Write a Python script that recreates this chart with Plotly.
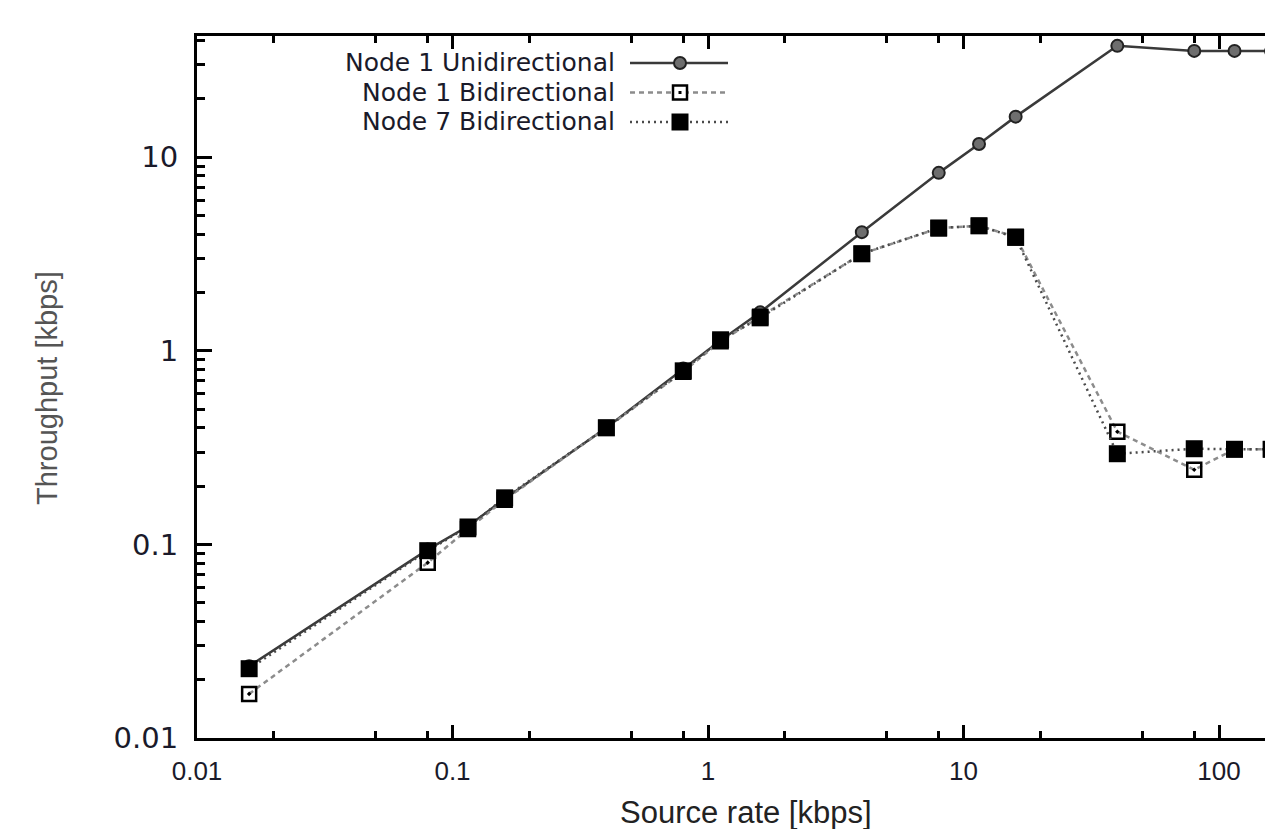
import plotly.graph_objects as go

# ---- data ----
source_rate = [0.016, 0.08, 0.115, 0.16, 0.4, 0.8, 1.12, 1.6, 4, 8, 11.5, 16, 40, 80, 115, 160]
node1_uni = [0.0235, 0.094, 0.124, 0.172, 0.40, 0.81, 1.13, 1.58, 4.1, 8.3, 11.7, 16.2, 37.6, 35.4, 35.4, 35.3]
node1_bi = [0.0169, 0.0805, 0.120, 0.170, 0.40, 0.78, 1.12, 1.50, 3.17, 4.30, 4.42, 3.88, 0.382, 0.243, 0.31, 0.31]
node7_bi = [0.0228, 0.0928, 0.123, 0.174, 0.40, 0.788, 1.14, 1.48, 3.17, 4.31, 4.42, 3.85, 0.294, 0.312, 0.31, 0.31]
series_names = ["Node 1 Unidirectional", "Node 1 Bidirectional", "Node 7 Bidirectional"]
x_major = [0.01, 0.1, 1, 10, 100]
x_major_text = ["0.01", "0.1", "1", "10", "100"]
y_major = [0.01, 0.1, 1, 10]
y_major_text = ["0.01", "0.1", "1", "10"]
x_minor_mult = [2, 5, 8]
y_minor_mult = [2, 3, 4, 5, 6, 7, 8, 9]

# ---- layout constants (page pixel coordinates) ----
WIN_W, WIN_H = 1273, 837
OFF = 8                       # default page body margin
W, H = WIN_W - OFF, WIN_H - 2 * OFF
L, T, B = 197, 36, 738        # plot area edges on the page
R = OFF + W                   # plot area right edge on the page
FONT = "Liberation Sans, Arial, sans-serif"
WIDE = "DejaVu Sans, Verdana, sans-serif"

def px(x):
    return (x - L) / (R - L)

def py(y):
    return (B - y) / (B - T)

x_minor = [m * d for d in [0.01, 0.1, 1, 10, 100] for m in x_minor_mult]
y_minor = [m * d for d in [0.01, 0.1, 1, 10] for m in y_minor_mult]

uni_style = dict(color="#3a3a3a", width=2.5, dash="solid")
bi1_style = dict(color="#8c8c8c", width=2.5, dash="5px,4px")
bi7_style = dict(color="#4a4a4a", width=2.5, dash="2px,4px")

fig = go.Figure()
fig.add_trace(go.Scatter(
    x=source_rate, y=node1_uni, mode="lines+markers", name=series_names[0],
    line=uni_style,
    marker=dict(symbol="circle", size=12, color="#6e6e6e", line=dict(color="#222", width=2)),
))
fig.add_trace(go.Scatter(
    x=source_rate, y=node1_bi, mode="lines+markers", name=series_names[1],
    line=bi1_style,
    marker=dict(symbol="square-open-dot", size=14, color="black", line=dict(width=2.5)),
))
fig.add_trace(go.Scatter(
    x=source_rate, y=node7_bi, mode="lines+markers", name=series_names[2],
    line=bi7_style,
    marker=dict(symbol="square", size=17, color="black", line=dict(width=0)),
))

# ---- custom legend (text right-aligned, sample on the right) ----
shapes = []
annotations = []
rows = [63, 92.5, 122]
line_x0, line_x1, mark_x = 630, 728, 680
for name, ry, st in zip(series_names, rows, [uni_style, bi1_style, bi7_style]):
    annotations.append(dict(
        x=px(617), y=py(ry), xref="paper", yref="paper", text=name, showarrow=False,
        xanchor="right", yanchor="middle", font=dict(family=WIDE, size=25, color="#1a1a2a"),
    ))
    shapes.append(dict(type="line", xref="paper", yref="paper",
                       x0=px(line_x0), x1=px(line_x1), y0=py(ry), y1=py(ry), line=st))
shapes.append(dict(type="circle", xref="paper", yref="paper",
                   x0=px(mark_x - 6), x1=px(mark_x + 6), y0=py(rows[0] + 6), y1=py(rows[0] - 6),
                   fillcolor="#6e6e6e", line=dict(color="#222", width=2)))
shapes.append(dict(type="rect", xref="paper", yref="paper",
                   x0=px(mark_x - 7), x1=px(mark_x + 7), y0=py(rows[1] + 7), y1=py(rows[1] - 7),
                   fillcolor="white", line=dict(color="black", width=2.5)))
shapes.append(dict(type="rect", xref="paper", yref="paper",
                   x0=px(mark_x - 1.5), x1=px(mark_x + 1.5), y0=py(rows[1] + 1.5), y1=py(rows[1] - 1.5),
                   fillcolor="black", line=dict(color="black", width=0)))
shapes.append(dict(type="rect", xref="paper", yref="paper",
                   x0=px(mark_x - 8.5), x1=px(mark_x + 8.5), y0=py(rows[2] + 8.5), y1=py(rows[2] - 8.5),
                   fillcolor="black", line=dict(color="black", width=0)))

# axis titles
annotations.append(dict(
    x=px(746), y=py(812), xref="paper", yref="paper", text="Source rate [kbps]", showarrow=False,
    xanchor="center", yanchor="middle", font=dict(family=FONT, size=31, color="#222"),
))
annotations.append(dict(
    x=px(47), y=py(388), xref="paper", yref="paper", text="Throughput [kbps]", showarrow=False,
    xanchor="center", yanchor="middle", textangle=-90, font=dict(family=FONT, size=29, color="#555"),
))

fig.update_layout(
    width=W, height=H,
    margin=dict(l=L - OFF, r=0, t=T - OFF, b=H - (B - OFF), pad=0),
    paper_bgcolor="white", plot_bgcolor="white",
    showlegend=False,
    shapes=shapes, annotations=annotations,
    font=dict(family=FONT, color="#1a1a2a"),
)
fig.update_xaxes(
    type="log", range=[-2, 2 + (R - 1219) / 255.5],
    tickvals=x_major, ticktext=x_major_text,
    ticks="inside", ticklen=13, tickwidth=2.5, tickcolor="black",
    showline=True, linecolor="black", linewidth=3, mirror="ticks",
    showgrid=False, zeroline=False,
    tickfont=dict(family=FONT, size=26, color="#1a1a2a"),
    ticklabelstandoff=8,
    minor=dict(tickvals=x_minor, ticks="inside", ticklen=7, tickwidth=2.5, tickcolor="black", showgrid=False),
)
fig.update_yaxes(
    type="log", range=[-2, 1.626],
    tickvals=y_major, ticktext=y_major_text,
    ticks="inside", ticklen=15, tickwidth=2.5, tickcolor="black",
    showline=True, linecolor="black", linewidth=3, mirror=False,
    showgrid=False, zeroline=False,
    tickfont=dict(family=WIDE, size=29, color="#1a1a2a"),
    ticklabelstandoff=10,
    minor=dict(tickvals=y_minor, ticks="inside", ticklen=8, tickwidth=2.5, tickcolor="black", showgrid=False),
)

fig.write_html("out.html")
